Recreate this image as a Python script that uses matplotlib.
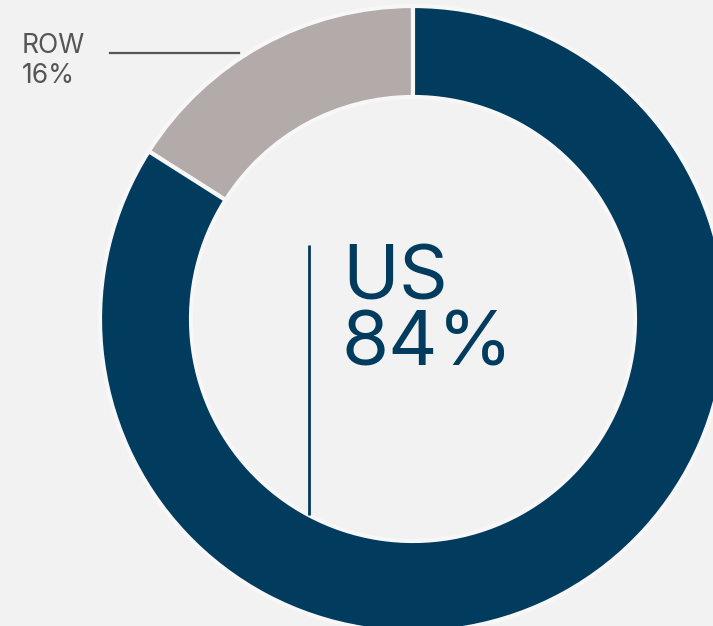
import matplotlib
matplotlib.use("Agg")
import matplotlib.pyplot as plt

categories = ["ROW", "US"]
values = [16, 84]
colors = ["#b3abaa", "#013b5d"]
labels_pct = ["16%", "84%"]

W, H = 713, 626
fig = plt.figure(figsize=(W / 100, H / 100), dpi=100)
fig.patch.set_facecolor("#f2f2f2")
ax = fig.add_axes([0, 0, 1, 1])
ax.set_facecolor("#f2f2f2")

cx, cy = 413, H - 319
R_out, R_in = 313, 222
ax.pie(values, colors=colors, startangle=90, counterclock=True,
       center=(cx, cy), radius=R_out,
       wedgeprops=dict(width=R_out - R_in, edgecolor="#f7f7f7", linewidth=3))
ax.set_xlim(0, W)
ax.set_ylim(0, H)
ax.set_aspect("equal")
ax.axis("off")

# US label with vertical line
ax.plot([309, 309], [H - 245, H - 515], color="#013b5d", lw=2, solid_capstyle="butt")
big = dict(fontsize=55, family="Inter", color="#013b5d", ha="left", va="baseline")
ax.text(342, H - 300, categories[1], **big)
ax.text(342, H - 366, labels_pct[1], **big)

# ROW label with leader line
small = dict(fontsize=19, family="Inter", color="#555555", ha="left", va="baseline")
ax.text(22, H - 53, categories[0], **small)
ax.text(22, H - 83, labels_pct[0], **small)
ax.plot([110, 239], [H - 53, H - 53], color="#555555", lw=1.6)

fig.savefig("out.png", dpi=100, facecolor=fig.get_facecolor())
